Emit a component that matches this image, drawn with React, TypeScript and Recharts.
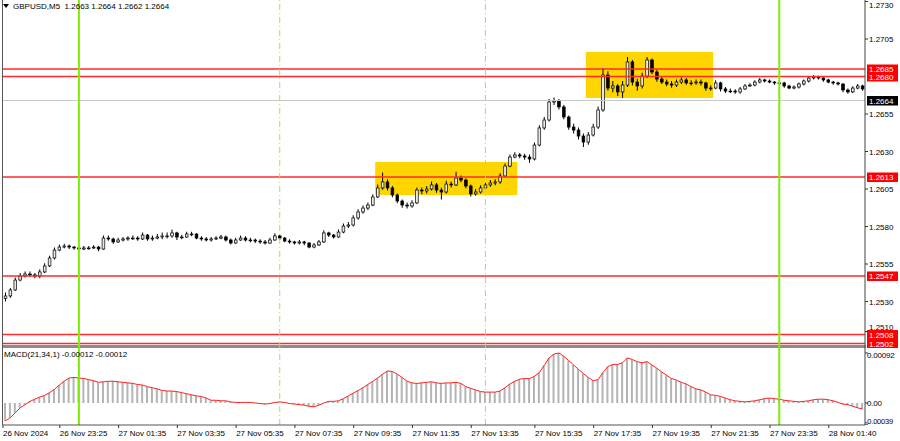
import React from "react";
import { ComposedChart, Bar, Line, XAxis, YAxis, ReferenceLine, ReferenceArea } from "recharts";

const FIRST_OPEN = 1.2532;

const closes = [
  1.25337, 1.25377, 1.25443, 1.2547, 1.25483, 1.25477, 1.2547, 1.25497, 1.25537, 1.2559,
  1.25643, 1.25663, 1.2567, 1.25663, 1.25657, 1.2565, 1.25657, 1.25657, 1.25663, 1.2565,
  1.25723, 1.25717, 1.25697, 1.2571, 1.25717, 1.25723, 1.25723, 1.25717, 1.25743, 1.25717,
  1.25723, 1.2573, 1.25737, 1.25737, 1.25757, 1.2573, 1.2573, 1.2575, 1.2575, 1.25723,
  1.25717, 1.2571, 1.25717, 1.25723, 1.2573, 1.2571, 1.2569, 1.2571, 1.25723, 1.2571,
  1.2571, 1.25703, 1.25697, 1.2569, 1.2571, 1.25737, 1.25723, 1.25703, 1.25697, 1.2569,
  1.25697, 1.2569, 1.25663, 1.25677, 1.25697, 1.25757, 1.25743, 1.2573, 1.25763, 1.25803,
  1.2581, 1.25857, 1.25897, 1.25923, 1.25943, 1.25997, 1.26057, 1.26097, 1.26057, 1.2601,
  1.2597, 1.25943, 1.25937, 1.25957, 1.26043, 1.26037, 1.2605, 1.26077, 1.26043, 1.2603,
  1.26083, 1.26077, 1.26123, 1.2611, 1.2607, 1.26017, 1.2603, 1.26057, 1.26077, 1.2609,
  1.26097, 1.26137, 1.26203, 1.26263, 1.26277, 1.2627, 1.26263, 1.2625, 1.26343, 1.26457,
  1.2651, 1.2663, 1.26637, 1.26597, 1.2653, 1.26463, 1.26443, 1.26403, 1.26363, 1.2641,
  1.26463, 1.26577, 1.2681, 1.26723, 1.26737, 1.26697, 1.26743, 1.26897, 1.26763, 1.26737,
  1.26803, 1.2691, 1.2683, 1.26783, 1.26763, 1.2675, 1.26743, 1.26763, 1.26777, 1.26757,
  1.26757, 1.26763, 1.26757, 1.26723, 1.26723, 1.26757, 1.26717, 1.26703, 1.26703, 1.26697,
  1.26717, 1.26737, 1.26743, 1.26763, 1.26777, 1.2677, 1.26763, 1.26757, 1.26757, 1.26737,
  1.26723, 1.2673, 1.2675, 1.2677, 1.2679, 1.26797, 1.2679, 1.26777, 1.26763, 1.26757,
  1.2675, 1.2671, 1.26697, 1.26723, 1.26737, 1.26717,
];

const highs = [
  1.2536, 1.2539, 1.2546, 1.2549, 1.255, 1.255, 1.2549, 1.25515, 1.25555, 1.25605,
  1.2566, 1.2568, 1.25685, 1.2568, 1.2567, 1.25665, 1.2567, 1.2567, 1.25675, 1.2567,
  1.2574, 1.2574, 1.25725, 1.25725, 1.2573, 1.25735, 1.2574, 1.25735, 1.2576, 1.2575,
  1.2574, 1.2575, 1.2576, 1.2576, 1.2578, 1.25765, 1.25745, 1.25765, 1.25765, 1.25755,
  1.25735, 1.2573, 1.2573, 1.25735, 1.25745, 1.2574, 1.2572, 1.25725, 1.2574, 1.25735,
  1.25725, 1.2572, 1.25715, 1.2571, 1.25725, 1.25755, 1.25745, 1.2573, 1.25715, 1.25705,
  1.2571, 1.25705, 1.25695, 1.2569, 1.2571, 1.25775, 1.25765, 1.2575, 1.2578, 1.2582,
  1.2583, 1.25875, 1.25915, 1.2594, 1.2596, 1.26015, 1.2608, 1.2616, 1.26115, 1.2607,
  1.2602, 1.2598, 1.2596, 1.25975, 1.2606, 1.2606, 1.2607, 1.261, 1.2609, 1.2606,
  1.26105, 1.261, 1.26165, 1.2614, 1.2612, 1.2608, 1.2605, 1.26075, 1.26095, 1.2611,
  1.26115, 1.26155, 1.2622, 1.2628, 1.26295, 1.2629, 1.26285, 1.2628, 1.2636, 1.26475,
  1.2653, 1.2665, 1.2666, 1.2665, 1.2661, 1.2654, 1.26485, 1.2646, 1.2642, 1.2643,
  1.26485, 1.266, 1.26857, 1.26835, 1.2677, 1.2675, 1.2677, 1.2693, 1.2691, 1.26785,
  1.26825, 1.2693, 1.2692, 1.26845, 1.268, 1.2678, 1.2677, 1.2678, 1.26795, 1.2679,
  1.26775, 1.2678, 1.2678, 1.26765, 1.2674, 1.26775, 1.26765, 1.2673, 1.2672, 1.26715,
  1.2673, 1.2675, 1.26755, 1.26775, 1.2679, 1.26785, 1.2678, 1.2677, 1.2677, 1.26765,
  1.26745, 1.2674, 1.2676, 1.2678, 1.268, 1.2681, 1.26805, 1.26795, 1.26785, 1.2677,
  1.26765, 1.26755, 1.2672, 1.26735, 1.2675, 1.26745,
];

const lows = [
  1.253, 1.25325, 1.2537, 1.25435, 1.2546, 1.25465, 1.25455, 1.25455, 1.2549, 1.2553,
  1.2558, 1.25635, 1.25655, 1.2565, 1.25645, 1.2564, 1.25643, 1.25645, 1.2565, 1.25635,
  1.25645, 1.25705, 1.25685, 1.2569, 1.257, 1.25705, 1.2571, 1.25705, 1.2571, 1.25705,
  1.25705, 1.25715, 1.25715, 1.2572, 1.25725, 1.2571, 1.25715, 1.25725, 1.25735, 1.25715,
  1.25705, 1.257, 1.257, 1.2571, 1.25715, 1.257, 1.2568, 1.25685, 1.25705, 1.257,
  1.25695, 1.2569, 1.25685, 1.2568, 1.25685, 1.25705, 1.2571, 1.25695, 1.25685, 1.2568,
  1.2568, 1.25675, 1.25655, 1.25655, 1.2567, 1.2569, 1.2573, 1.2572, 1.25725, 1.25755,
  1.2579, 1.258, 1.25845, 1.25885, 1.2591, 1.25935, 1.2599, 1.26045, 1.2604, 1.25995,
  1.25955, 1.25925, 1.2592, 1.25925, 1.2595, 1.26015, 1.2602, 1.2604, 1.26025, 1.2598,
  1.2602, 1.2606, 1.2607, 1.26095, 1.26055, 1.26, 1.26005, 1.2602, 1.26045, 1.26065,
  1.26075, 1.26085, 1.2613, 1.26195, 1.26255, 1.26255, 1.26245, 1.26225, 1.2624, 1.26335,
  1.26445, 1.265, 1.2661, 1.2658, 1.26515, 1.26445, 1.2642, 1.2638, 1.2633, 1.26345,
  1.264, 1.2645, 1.26565, 1.26705, 1.26695, 1.2667, 1.26657, 1.2673, 1.2674, 1.26705,
  1.2672, 1.2679, 1.26815, 1.26765, 1.2675, 1.26735, 1.26725, 1.2673, 1.2675, 1.26745,
  1.2674, 1.26745, 1.2674, 1.26705, 1.26705, 1.26715, 1.267, 1.2669, 1.2669, 1.26685,
  1.26685, 1.2671, 1.2673, 1.26735, 1.26755, 1.2676, 1.26755, 1.26745, 1.26745, 1.26725,
  1.26715, 1.26715, 1.2672, 1.2674, 1.2676, 1.2678, 1.2678, 1.26765, 1.26755, 1.26745,
  1.2674, 1.26695, 1.26685, 1.2669, 1.26715, 1.26705,
];

const macdValues = [
  -0.00033, -0.00027, -0.00018, -0.00009, -0.00003, 0.00003, 0.00007, 0.00011, 0.00014, 0.00019,
  0.00025, 0.00033, 0.0004, 0.00046, 0.00047, 0.00046, 0.00045, 0.00043, 0.00041, 0.00038,
  0.00039, 0.0004, 0.0004, 0.00039, 0.00038, 0.00037, 0.00036, 0.00034, 0.00033, 0.0003,
  0.00028, 0.00026, 0.00023, 0.00022, 0.00022, 0.00021, 0.00019, 0.00017, 0.00015, 0.00013,
  0.00012, 0.00009, 0.00005, 0.00005, 0.00004, 0.00004, 0.00002, 0.00001, 0.00001, 0.00001,
  0.00001, 0.0, -0.00001, -0.00002, -0.00001, 0.00001, 0.00002, 0.00001, -0.00001, -0.00002,
  -0.00003, -0.00004, -0.00006, -0.00007, -0.00004, 0.0, 0.00003, 0.00003, 0.00004, 0.00008,
  0.00013, 0.00018, 0.00023, 0.00028, 0.00034, 0.0004, 0.00046, 0.00053, 0.00059, 0.00058,
  0.00053, 0.00047, 0.0004, 0.00037, 0.00036, 0.00037, 0.00038, 0.00039, 0.00037, 0.00036,
  0.00037, 0.00037, 0.00038, 0.00036, 0.0003, 0.00027, 0.00024, 0.00021, 0.0002, 0.0002,
  0.0002, 0.00022, 0.00028, 0.00035, 0.0004, 0.00044, 0.00045, 0.00045, 0.00049, 0.00056,
  0.00069, 0.00083, 0.0009, 0.00092, 0.00086, 0.00078, 0.0007, 0.00062, 0.00054, 0.00047,
  0.00041, 0.00043, 0.00056, 0.00067, 0.00071, 0.00071, 0.00074, 0.00083, 0.0008, 0.00076,
  0.00074, 0.00076, 0.0007, 0.00064, 0.00057, 0.00051, 0.00045, 0.00042, 0.00038, 0.00035,
  0.0003, 0.00026, 0.00024, 0.0002, 0.00015, 0.00014, 0.00012, 0.00009, 0.00006, 0.00004,
  0.00003, 0.00002, 0.00003, 0.00004, 0.00006, 0.00008, 0.00009, 0.00008, 0.00007, 0.00005,
  0.00004, 0.00003, 0.00002, 0.00003, 0.00004, 0.00006, 0.00007, 0.00007, 0.00006, 0.00004,
  0.00001, -0.00002, -0.00003, -0.00006, -0.00009, -0.00011,
];

const tickBars = [0, 11, 23, 35, 47, 59, 71, 83, 95, 108, 120, 132, 144, 156, 168];
const tickLabels = [
  "26 Nov 2024", "26 Nov 23:25", "27 Nov 01:35", "27 Nov 03:35", "27 Nov 05:35",
  "27 Nov 07:35", "27 Nov 09:35", "27 Nov 11:35", "27 Nov 13:35", "27 Nov 15:35",
  "27 Nov 17:35", "27 Nov 19:35", "27 Nov 21:35", "27 Nov 23:35", "28 Nov 01:40",
];
const priceTicks = [1.273, 1.2705, 1.2655, 1.263, 1.2605, 1.258, 1.2555, 1.253, 1.251];
const macdTicks = [0.00092, 0, -0.00039];
const redLevels = [1.2685, 1.268, 1.2613, 1.2547, 1.2508, 1.2502];
const redLabels = ["1.2685", "1.2680", "1.2613", "1.2547", "1.2508", "1.2502"];
const bidPrice = 1.2664;
const bidLabel = "1.2664";
const solidLines = [15, 158];
const dashedLines = [56, 98];
const boxX1 = [76, 119];
const boxX2 = [104, 144];
const boxYLow = [1.2601, 1.26657];
const boxYHigh = [1.2623, 1.26963];
const headerText = "GBPUSD,M5  1.2663 1.2664 1.2662 1.2664";
const macdTitle = "MACD(21,34,1) -0.00012 -0.00012";

const FONT = "'Liberation Sans', Arial, sans-serif";

const data = closes.map((c, i) => ({
  i,
  open: i === 0 ? FIRST_OPEN : closes[i - 1],
  close: c,
  high: highs[i],
  low: lows[i],
  range: [lows[i], highs[i]],
  macd: macdValues[i],
}));

const Candle = (props: any) => {
  const { x, y, width, height, payload } = props;
  if (x == null || payload == null) return null;
  const top = Math.min(y, y + height);
  const h = Math.abs(height);
  const { open, close, high, low } = payload;
  const span = high - low || 1e-9;
  const py = (v: number) => top + ((high - v) / span) * h;
  const bTop = py(Math.max(open, close));
  const bBot = py(Math.min(open, close));
  const cx = x + width / 2;
  const bull = close >= open;
  const bw = 2.7;
  return (
    <g>
      <line x1={cx} x2={cx} y1={top} y2={top + h} stroke="#000" strokeWidth={1} />
      <rect
        x={cx - bw / 2}
        y={bTop}
        width={bw}
        height={Math.max(bBot - bTop, 0.8)}
        fill={bull ? "#e8e8e8" : "#000000"}
        stroke="#000"
        strokeWidth={0.7}
      />
    </g>
  );
};

const makeTag = (text: string, bg: string) => (p: any) => {
  const vb = p && p.viewBox;
  if (!vb) return null;
  const right = vb.x + vb.width;
  const cy = vb.y;
  return (
    <g>
      <rect x={right + 2} y={cy - 4.5} width={31} height={9.5} fill={bg} />
      <text x={right + 4} y={cy + 3} fill="#fff" fontSize={8} fontFamily={FONT}>
        {text}
      </text>
    </g>
  );
};

const TimeTick = (props: any) => {
  const { x, y, payload } = props;
  const idx = tickBars.indexOf(payload.value);
  if (idx < 0) return null;
  const tx = idx === 0 ? x - 2.5 : x + 0.5;
  return (
    <g>
      <line x1={tx} x2={tx} y1={y} y2={y + 3} stroke="#333" strokeWidth={1} />
      <text x={tx} y={y + 11} fontSize={8} fontFamily={FONT} fill="#000" textAnchor="start">
        {tickLabels[idx]}
      </text>
    </g>
  );
};

const MacdTick = (props: any) => {
  const { x, y, payload } = props;
  const v = payload.value;
  const label = v === 0 ? "0.00" : v.toFixed(5);
  const dy = v < 0 ? -3 : v > 0 ? 2 : 0;
  return (
    <text
      x={v < 0 ? x - 4 : x - 2}
      y={y + dy + 3}
      fontSize={v < 0 ? 7.5 : 8}
      letterSpacing={-0.2}
      fontFamily={FONT}
      fill="#000"
      textAnchor="start"
    >
      {label}
    </text>
  );
};

const PriceTick = (props: any) => {
  const { x, y, payload } = props;
  const v = payload.value;
  const dy = v > 1.272 ? 3 : v < 1.2515 ? -5 : 0;
  return (
    <text x={x} y={y + 3 + dy} fontSize={8} fontFamily={FONT} fill="#000" textAnchor="start">
      {v.toFixed(4)}
    </text>
  );
};

export default function App() {
  return (
    <div
      style={{
        position: "absolute",
        left: 0,
        top: 0,
        width: 900,
        height: 441,
        background: "#fff",
        overflow: "hidden",
        fontFamily: FONT,
      }}
    >
      <div style={{ position: "absolute", left: 2, top: 345, width: 864, height: 3, background: "#8c8c8c" }} />
      <div style={{ position: "absolute", left: 2, top: 0, width: 1, height: 425, background: "#555" }} />

      <div style={{ position: "absolute", left: 0, top: 0 }}>
        <ComposedChart width={900} height={348} data={data} margin={{ top: 0, right: 0, bottom: 0, left: 3 }}>
          <XAxis dataKey="i" hide />
          <YAxis
            orientation="right"
            width={35}
            type="number"
            domain={[1.2499, 1.2731]}
            allowDataOverflow
            ticks={priceTicks}
            tickSize={3}
            tickMargin={1}
            tick={<PriceTick />}
            tickLine={{ stroke: "#333" }}
            axisLine={{ stroke: "#444" }}
            interval={0}
          />
          {boxX1.map((x1, k) => (
            <ReferenceArea
              key={"box" + k}
              x1={x1}
              x2={boxX2[k]}
              y1={boxYLow[k]}
              y2={boxYHigh[k]}
              fill="#ffd500"
              fillOpacity={1}
              stroke="none"
            />
          ))}
          <ReferenceLine y={bidPrice} stroke="#c8c8c8" strokeWidth={1} />
          <Bar dataKey="range" shape={<Candle />} isAnimationActive={false} />
          {redLevels.map((v, k) => (
            <ReferenceLine
              key={"lvl" + k}
              y={v}
              stroke="#ff2a2a"
              strokeWidth={1.5}
              label={makeTag(redLabels[k], "#ff0000")}
            />
          ))}
          <ReferenceLine y={bidPrice} stroke="none" label={makeTag(bidLabel, "#000000")} />
          {solidLines.map((x, k) => (
            <ReferenceLine key={"sl" + k} x={x} stroke="#7cf000" strokeWidth={2} />
          ))}
          {dashedLines.map((x, k) => (
            <ReferenceLine key={"dl" + k} x={x} stroke="#a6e35a" strokeWidth={1} strokeDasharray="6 3 1 3" />
          ))}
        </ComposedChart>
      </div>

      <div style={{ position: "absolute", left: 0, top: 348 }}>
        <ComposedChart width={900} height={93} data={data} margin={{ top: 0, right: 0, bottom: 0, left: 3 }}>
          <XAxis
            dataKey="i"
            interval={0}
            height={16}
            tickSize={0}
            tickMargin={0}
            tickLine={false}
            tick={<TimeTick />}
            axisLine={{ stroke: "#555" }}
          />
          <YAxis
            orientation="right"
            width={35}
            type="number"
            domain={[-0.000405, 0.001012]}
            allowDataOverflow
            ticks={macdTicks}
            tickSize={3}
            tickMargin={1}
            tick={<MacdTick />}
            tickLine={{ stroke: "#333" }}
            axisLine={{ stroke: "#444" }}
            interval={0}
          />
          <Bar dataKey="macd" fill="#b4b4b4" barSize={2} isAnimationActive={false} />
          <Line dataKey="macd" type="linear" stroke="#ff2020" strokeWidth={1} dot={false} isAnimationActive={false} />
          {solidLines.map((x, k) => (
            <ReferenceLine key={"sl2" + k} x={x} stroke="#7cf000" strokeWidth={2} />
          ))}
          {dashedLines.map((x, k) => (
            <ReferenceLine key={"dl2" + k} x={x} stroke="#a6e35a" strokeWidth={1} strokeDasharray="6 3 1 3" />
          ))}
        </ComposedChart>
      </div>

      <svg style={{ position: "absolute", left: 3, top: 4 }} width={7} height={6}>
        <polygon points="0,0 6,0 3,4" fill="#000" />
      </svg>
      <div style={{ position: "absolute", left: 13, top: 2, fontSize: 8, lineHeight: "10px", color: "#000", whiteSpace: "pre" }}>
        {headerText}
      </div>
      <div style={{ position: "absolute", left: 4, top: 350, fontSize: 8, lineHeight: "10px", color: "#000", whiteSpace: "pre" }}>
        {macdTitle}
      </div>
    </div>
  );
}
